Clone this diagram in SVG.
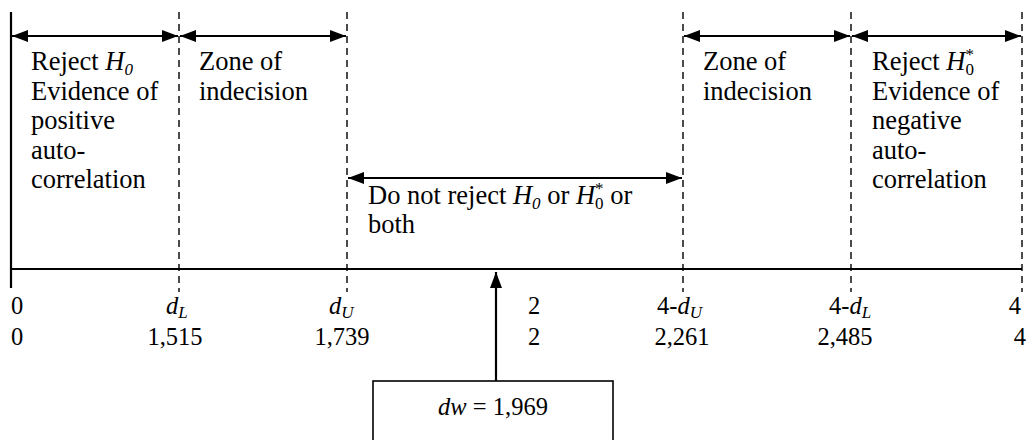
<svg xmlns="http://www.w3.org/2000/svg" width="1034" height="440" viewBox="0 0 1034 440" font-family="'Liberation Serif', 'Times New Roman', serif">
<style>
text{font-family:'Liberation Serif','Times New Roman',serif;fill:#000}
.t{font-size:26.5px}
.s{font-size:24.5px}
.i{font-style:italic}
.sub{font-size:17px}
.dash{stroke:#000;stroke-width:1.4;stroke-dasharray:7 5;fill:none}
.ln{stroke:#000;stroke-width:2.2;fill:none}
.box{stroke:#000;stroke-width:1.6;fill:#fff}
</style>
<defs>
<marker id="ah" viewBox="0 0 16 12" refX="16" refY="6" markerWidth="16" markerHeight="12" markerUnits="userSpaceOnUse" orient="auto-start-reverse">
<path d="M0,0 L16,6 L0,12 Z" fill="#000"/>
</marker>
</defs>
<g id="axis">
<line class="ln" x1="11" y1="12" x2="11" y2="288"/>
<line class="ln" x1="11" y1="269" x2="1022" y2="269"/>
<line class="dash" x1="179" y1="12" x2="179" y2="292"/>
<line class="dash" x1="347" y1="12" x2="347" y2="292"/>
<line class="dash" x1="683" y1="12" x2="683" y2="292"/>
<line class="dash" x1="851" y1="12" x2="851" y2="292"/>
<line class="dash" x1="1022" y1="12" x2="1022" y2="292"/>
</g>
<g id="connectors">
<line class="ln" x1="12" y1="36" x2="178" y2="36" marker-start="url(#ah)" marker-end="url(#ah)"/>
<line class="ln" x1="180" y1="36" x2="346" y2="36" marker-start="url(#ah)" marker-end="url(#ah)"/>
<line class="ln" x1="684" y1="36" x2="850" y2="36" marker-start="url(#ah)" marker-end="url(#ah)"/>
<line class="ln" x1="852" y1="36" x2="1021" y2="36" marker-start="url(#ah)" marker-end="url(#ah)"/>
<line class="ln" x1="348" y1="178" x2="682" y2="178" marker-start="url(#ah)" marker-end="url(#ah)"/>
<line class="ln" x1="496" y1="381" x2="496" y2="272" marker-end="url(#ah)"/>
</g>
<g id="zone-reject-h0">
<text class="t" x="31" y="70">Reject <tspan class="i">H</tspan><tspan class="i sub" dy="5">0</tspan></text>
<text class="t" x="31" y="99.5">Evidence of</text>
<text class="t" x="31" y="129">positive</text>
<text class="t" x="31" y="158.5">auto-</text>
<text class="t" x="31" y="188">correlation</text>
</g>
<g id="zone-indecision-left">
<text class="t" x="199" y="70">Zone of</text>
<text class="t" x="199" y="99.5">indecision</text>
</g>
<g id="zone-do-not-reject">
<text class="t" x="368" y="204">Do not reject <tspan class="i">H</tspan><tspan class="i sub" dy="5">0</tspan><tspan dy="-5"> or </tspan><tspan class="i">H</tspan><tspan class="sub" dy="5">0</tspan><tspan class="sub" dx="-8.5" dy="-15">*</tspan><tspan dy="10"> or</tspan></text>
<text class="t" x="368" y="233">both</text>
</g>
<g id="zone-indecision-right">
<text class="t" x="703" y="70">Zone of</text>
<text class="t" x="703" y="99.5">indecision</text>
</g>
<g id="zone-reject-h0star">
<text class="t" x="872" y="70">Reject <tspan class="i">H</tspan><tspan class="sub" dy="5">0</tspan><tspan class="sub" dx="-8.5" dy="-15">*</tspan></text>
<text class="t" x="872" y="99.5">Evidence of</text>
<text class="t" x="872" y="129">negative</text>
<text class="t" x="872" y="158.5">auto-</text>
<text class="t" x="872" y="188">correlation</text>
</g>
<g id="tick-labels">
<text class="s" x="11" y="314">0</text>
<text class="s" x="11" y="345">0</text>
<text class="s i" x="166" y="314">d<tspan class="sub" dy="4">L</tspan></text>
<text class="s" x="175" y="345" text-anchor="middle">1,515</text>
<text class="s i" x="329" y="314">d<tspan class="sub" dy="4">U</tspan></text>
<text class="s" x="342" y="345" text-anchor="middle">1,739</text>
<text class="s" x="528" y="314">2</text>
<text class="s" x="528" y="345">2</text>
<text class="s" x="657" y="314">4-<tspan class="i">d</tspan><tspan class="i sub" dy="4">U</tspan></text>
<text class="s" x="682" y="345" text-anchor="middle">2,261</text>
<text class="s" x="829" y="314">4-<tspan class="i">d</tspan><tspan class="i sub" dy="4">L</tspan></text>
<text class="s" x="845" y="345" text-anchor="middle">2,485</text>
<text class="s" x="1021" y="314" text-anchor="end">4</text>
<text class="s" x="1026" y="345" text-anchor="end">4</text>
</g>
<g id="dw-box">
<rect class="box" x="373" y="381" width="240" height="70"/>
<text class="s" x="493" y="415" text-anchor="middle"><tspan class="i">dw</tspan> = 1,969</text>
</g>
</svg>
